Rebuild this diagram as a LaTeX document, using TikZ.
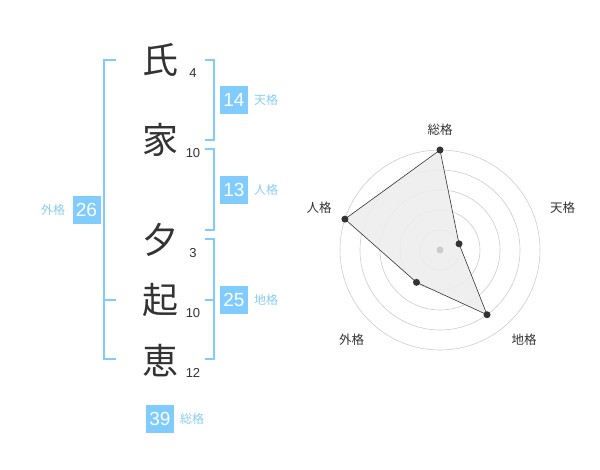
\documentclass[tikz,border=0pt]{standalone}
\usepackage{fontspec}
\setmainfont{Liberation Sans}
\newfontfamily\cjk{Noto Sans CJK JP}
\definecolor{kakublue}{HTML}{80CCFF}
\definecolor{kakutext}{HTML}{88CCF4}
\definecolor{inkgray}{HTML}{333333}
\definecolor{ringgray}{HTML}{CCCCCC}
\tikzset{
  kanji/.style={font=\cjk\fontsize{36}{36}\selectfont, text=inkgray, inner sep=0pt},
  strokes/.style={font=\fontsize{13}{13}\selectfont, text=inkgray, inner sep=0pt},
  kakubox/.style={fill=kakublue, text=white, minimum size=28pt, inner sep=0pt, font=\fontsize{19}{19}\selectfont},
  kakulabel/.style={font=\cjk\fontsize{12}{12}\selectfont, text=kakutext, inner sep=0pt},
  axislabel/.style={font=\cjk\fontsize{12.5}{12.5}\selectfont, text=inkgray, inner sep=0pt},
  bracket/.style={draw=kakublue, line width=2pt},
}
\begin{document}
\begin{tikzpicture}[x=1pt,y=1pt]
  \useasboundingbox (0,0) rectangle (600,470);

  \foreach \k/\ky/\n/\ny [count=\i] in {
        氏/410/4/397, 家/330/10/317, 夕/230/3/217,
        起/170/10/157, 恵/109/12/97
    } {
    \node[kanji] (k\i) at (160,\ky) {\k};
    \node[strokes] (n\i) at (193,\ny) {\n};
  }

  \draw[bracket] (116,410) -- (104,410) -- (104,111) -- (116,111);
  \draw[bracket] (104,170) -- (116,170);
  \draw[bracket] (205,410) -- (214,410) -- (214,330) -- (205,330);
  \draw[bracket] (205,321) -- (214,321) -- (214,240) -- (205,240);
  \draw[bracket] (205,231) -- (214,231) -- (214,111) -- (205,111);
  \draw[bracket] (205,170) -- (214,170);

  \foreach \v/\bx/\by/\lab/\lx [count=\i] in {
        14/234/370/天格/266, 13/234/280/人格/266, 26/86.5/260/外格/53,
        25/234/170/地格/266, 39/160/51/総格/192
    } {
    \node[kakubox] (box\i) at (\bx,\by) {\v};
    \node[kakulabel] (lab\i) at (\lx,\by) {\lab};
  }

  \begin{scope}[shift={(440,220)}]
    \foreach \r in {20,40,...,100} {
      \draw[ringgray, line width=0.6pt] (0,0) circle[radius=\r];
    }
    \coordinate (sou) at (90:100);
    \coordinate (ten) at (18:20);
    \coordinate (chi) at (-54:80);
    \coordinate (gai) at (-126:40);
    \coordinate (jin) at (162:100);
    \filldraw[fill=black!7, fill opacity=0.9, draw=inkgray, line width=0.6pt]
      (sou) -- (ten) -- (chi) -- (gai) -- (jin) -- cycle;
    \foreach \p in {sou,ten,chi,gai,jin} {
      \fill[inkgray] (\p) circle[radius=3.5];
    }
    \fill[ringgray] (0,0) circle[radius=3.5];
  \end{scope}

  \node[axislabel] (axsou) at (440,340) {総格};
  \node[axislabel] (axten) at (562.5,262) {天格};
  \node[axislabel] (axjin) at (319,262) {人格};
  \node[axislabel] (axgai) at (351.5,130) {外格};
  \node[axislabel] (axchi) at (524,130) {地格};
\end{tikzpicture}
\end{document}
